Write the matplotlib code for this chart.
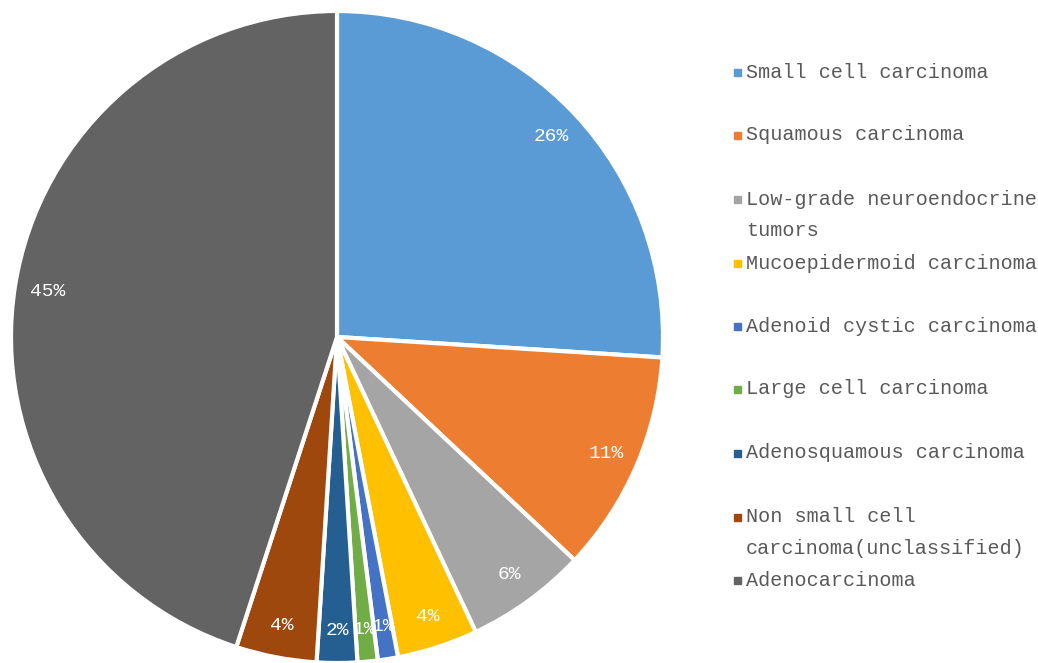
import matplotlib.pyplot as plt

labels = ['Small cell carcinoma', 'Squamous carcinoma',
          'Low-grade neuroendocrine\ntumors', 'Mucoepidermoid carcinoma',
          'Adenoid cystic carcinoma', 'Large cell carcinoma',
          'Adenosquamous carcinoma', 'Non small cell\ncarcinoma(unclassified)',
          'Adenocarcinoma']
shares = [26, 11, 6, 4, 1, 1, 2, 4, 45]
colors = ['#5B9BD5', '#ED7D31', '#A5A5A5', '#FFC000', '#4472C4',
          '#70AD47', '#255E91', '#9E480E', '#636363']

# legend rows, first line of each entry in pixels from the top
legend_y = [72, 135, 199, 264, 326, 389, 453, 517, 580]
line_gap = 31

W, H = 1038, 663
font = 'Liberation Mono'

fig = plt.figure(figsize=(W / 100, H / 100), dpi=100)
ax = fig.add_axes([11 / W, 0, 652 / W, 652 / H])

wedges, texts, pcts = ax.pie(shares, colors=colors, startangle=90,
                             counterclock=False,
                             autopct=lambda p: '%.0f%%' % p, pctdistance=0.9,
                             wedgeprops=dict(edgecolor='white', linewidth=3))
for t in pcts:
    t.set_fontfamily(font)
    t.set_fontsize(14)
    t.set_color('white')
ax.set_xlim(-1, 1)
ax.set_ylim(-1, 1)
ax.set_aspect('equal')
ax.axis('off')

for lab, col, y in zip(labels, colors, legend_y):
    fy = 1 - y / H
    fig.patches.append(plt.Rectangle((734 / W, fy - 3.5 / H), 7 / W, 7 / H,
                                     transform=fig.transFigure, color=col))
    for i, line in enumerate(lab.split('\n')):
        fig.text(746 / W, fy - i * line_gap / H, line, fontsize=14.5,
                 family=font, color='#595959', va='center', ha='left')

fig.savefig('out.png', dpi=100)
